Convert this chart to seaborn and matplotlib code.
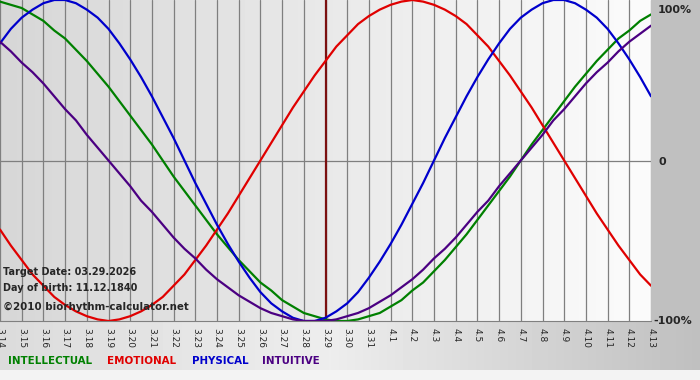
import numpy as np
import pandas as pd
import matplotlib
matplotlib.use("Agg")
import matplotlib.pyplot as plt
import seaborn as sns

# 日期（x轴刻度）
dates = ["3.14", "3.15", "3.16", "3.17", "3.18", "3.19", "3.20", "3.21", "3.22",
         "3.23", "3.24", "3.25", "3.26", "3.27", "3.28", "3.29", "3.30", "3.31",
         "4.1", "4.2", "4.3", "4.4", "4.5", "4.6", "4.7", "4.8", "4.9", "4.10",
         "4.11", "4.12", "4.13"]
target_date = "3.29"

# 各周期的数值（%），每半天读一次
intellectual = [99, 97, 95, 91, 87, 81, 76, 69, 62, 54, 46, 37, 28, 19, 10, 0, -10, -19,
                -28, -37, -46, -54, -62, -69, -76, -81, -87, -91, -95, -97, -99, -100,
                -100, -99, -97, -95, -91, -87, -81, -76, -69, -62, -54, -46, -37, -28,
                -19, -10, 0, 10, 19, 28, 37, 46, 54, 62, 69, 76, 81, 87, 91]
emotional = [-43, -53, -62, -71, -78, -85, -90, -94, -97, -99, -100, -99, -97, -94, -90,
             -85, -78, -71, -62, -53, -43, -33, -22, -11, 0, 11, 22, 33, 43, 53, 62, 71,
             78, 85, 90, 94, 97, 99, 100, 99, 97, 94, 90, 85, 78, 71, 62, 53, 43, 33, 22,
             11, 0, -11, -22, -33, -43, -53, -62, -71, -78]
physical = [73, 82, 89, 94, 98, 100, 100, 98, 94, 89, 82, 73, 63, 52, 40, 27, 14, 0, -14,
            -27, -40, -52, -63, -73, -82, -89, -94, -98, -100, -100, -98, -94, -89, -82,
            -73, -63, -52, -40, -27, -14, 0, 14, 27, 40, 52, 63, 73, 82, 89, 94, 98, 100,
            100, 98, 94, 89, 82, 73, 63, 52, 40]
intuitive = [74, 68, 61, 55, 48, 40, 32, 25, 16, 8, 0, -8, -16, -25, -32, -40, -48, -55,
             -61, -68, -74, -79, -84, -88, -92, -95, -97, -99, -100, -100, -100, -99, -97,
             -95, -92, -88, -84, -79, -74, -68, -61, -55, -48, -40, -32, -25, -16, -8, 0,
             8, 16, 25, 32, 40, 48, 55, 61, 68, 74, 79, 84]

cycles = ["INTELLECTUAL", "EMOTIONAL", "PHYSICAL", "INTUITIVE"]
colors = ["#008000", "#e00000", "#0000cc", "#4b0082"]

sns.set_style("white")
plt.rcParams['font.family'] = ['DejaVu Sans']

# 长表（每半天一个点）
day_pos = np.arange(len(physical)) / 2
frames = []
for name, vals in zip(cycles, [intellectual, emotional, physical, intuitive]):
    frames.append(pd.DataFrame({"day": day_pos, "value": vals, "cycle": name}))
df = pd.concat(frames, ignore_index=True)

fig = plt.figure(figsize=(7, 3.8), dpi=100)

# 背景渐变
W, H = 700, 380
plot_w, plot_h, strip_h = 651, 321, 370
xs = np.arange(W)
img = np.full((H, W), 0.955)
img[:strip_h, :] = np.interp(xs, [0, 330, 700], [0.86, 0.93, 0.75])
img[:plot_h, plot_w:] = 0.753
img[:plot_h, :plot_w] = np.interp(xs[:plot_w], [0, plot_w], [0.84, 0.985])
bg = fig.add_axes([0, 0, 1, 1])
bg.imshow(img, cmap="gray", vmin=0, vmax=1, aspect="auto", interpolation="nearest")
bg.set_axis_off()

ax = fig.add_axes([0, 1 - plot_h / H, plot_w / W, plot_h / H])
ax.patch.set_alpha(0)

sns.lineplot(data=df, x="day", y="value", hue="cycle", hue_order=cycles,
             palette=dict(zip(cycles, colors)), linewidth=1.6, legend=False, ax=ax)

ax.set_xlim(0, len(dates) - 1)
ax.set_ylim(-100, 100)
ax.set_xlabel("")
ax.set_ylabel("")
ax.set_xticks(range(len(dates)))
ax.set_xticklabels(dates, rotation=-90, fontsize=6.5, va="top", ha="center")
ax.tick_params(axis="x", length=4, color="#808080", width=0.8, pad=1)
ax.set_yticks([])
ax.set_axisbelow(True)
ax.grid(True, axis="x", color="#7f7f7f", linewidth=0.9)
ax.axhline(0, color="#7f7f7f", linewidth=0.9, zorder=0)
ax.axvline(dates.index(target_date), color="#7b1010", linewidth=1.6, zorder=1)
for s in ["top", "left", "right"]:
    ax.spines[s].set_visible(False)
ax.spines["bottom"].set_color("#808080")
ax.spines["bottom"].set_linewidth(0.8)

# 右侧百分比
ax.text(1.0108, 0.985, "100%", transform=ax.transAxes, fontsize=8, fontweight="bold",
        va="top", ha="left")
ax.text(1.0108, 0.495, "0", transform=ax.transAxes, fontsize=8, fontweight="bold",
        va="center", ha="left")
ax.text(1.003, 0.0, "-100%", transform=ax.transAxes, fontsize=8, fontweight="bold",
        va="center", ha="left")

# 左下角信息
fig.text(0.004, 1 - 272 / H, "Target Date: 03.29.2026", fontsize=7, fontweight="bold", va="center")
fig.text(0.004, 1 - 288 / H, "Day of birth: 11.12.1840", fontsize=7, fontweight="bold", va="center")
fig.text(0.004, 1 - 307 / H, "\u00a92010 biorhythm-calculator.net", fontsize=7.4,
         fontweight="bold", va="center")

# 底部图例文字
legend_x = [8, 107, 192, 262]
for name, c, x in zip(cycles, colors, legend_x):
    fig.text(x / W, 1 - 361 / H, name, color=c, fontsize=7.4, fontweight="bold", va="center")

fig.savefig("out.png", dpi=100)
